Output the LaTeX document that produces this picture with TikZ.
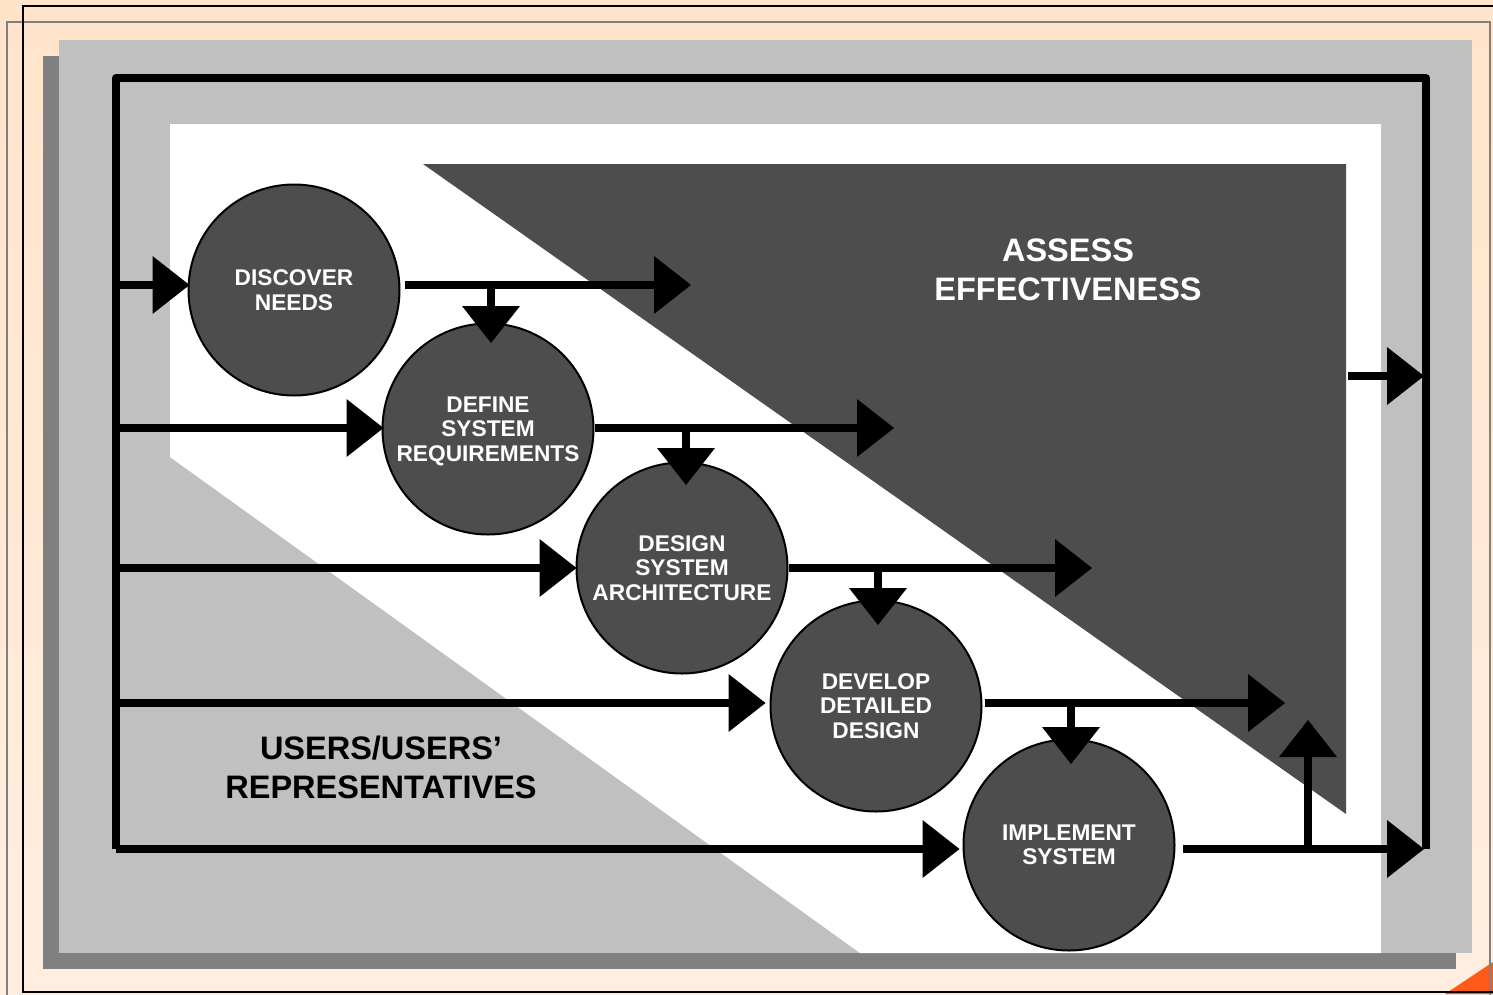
\documentclass[tikz,border=0pt]{standalone}
\usepackage{fontspec}
\setmainfont{Liberation Sans}
\usetikzlibrary{arrows.meta}
\definecolor{darkfill}{HTML}{4D4D4D}
\definecolor{panelc}{HTML}{C0C0C0}
\definecolor{shadowc}{HTML}{808080}
\definecolor{peachtop}{HTML}{FFE4CA}
\definecolor{peachbot}{HTML}{FFEEE0}
\definecolor{orangec}{HTML}{FF5A1A}
\begin{document}
\begin{tikzpicture}[x=1pt,y=-1pt,
  proc/.style={circle, draw=black, line width=2pt, fill=darkfill, minimum size=211pt, inner sep=0pt,
    text=white, font=\bfseries\fontsize{22.7}{24.5}\selectfont, align=center},
  arr/.style={line width=8pt, -{Triangle[length=37pt,width=58pt,line width=0pt]}},
  bar/.style={line width=8pt, line join=round},
  biglabel/.style={font=\bfseries\fontsize{32.5}{39}\selectfont, align=center}]
\useasboundingbox (0,0) rectangle (1493,994);
\begin{scope}
\clip (0,0) rectangle (1493,994);
% background
\shade[top color=peachtop, bottom color=peachbot] (0,0) rectangle (1493,994);
\fill[orangec] (1445,994) -- (1493,962) -- (1493,994) -- cycle;
\draw[shadowc, line width=1.5pt] (7,22) rectangle (1490,1005);
\draw[black, line width=2pt] (23,6) rectangle (1505,992);
% panel
\fill[shadowc] (43,56) rectangle (1456,969);
\fill[panelc] (59,40) rectangle (1472,953);
\fill[white] (170,124) -- (1381,124) -- (1381,953) -- (860,953) -- (170,457) -- cycle;
\fill[darkfill] (423,164) -- (1346,164) -- (1346,814) -- cycle;
\end{scope}
% labels
\node[biglabel, text=white] (assess) at (1068,269.5) {ASSESS\\EFFECTIVENESS};
\node[biglabel] (users) at (381,767.5) {USERS/USERS’\\REPRESENTATIVES};
% process circles
\node[proc] (dn) at (294,290) {DISCOVER\\NEEDS};
\node[proc] (dr) at (488,429) {DEFINE\\SYSTEM\\\raisebox{0pt}[\height][0pt]{REQUIREMENTS}};
\node[proc] (da) at (682,568) {DESIGN\\SYSTEM\\ARCHITECTURE};
\node[proc] (dd) at (876,706) {DEVELOP\\DETAILED\\DESIGN};
\node[proc] (is) at (1069,845) {IMPLEMENT\\SYSTEM};
% frame
\coordinate (TL) at (116,78);
\coordinate (TR) at (1426,78);
\coordinate (BL) at (116,849);
\coordinate (BR) at (1426,849);
\draw[bar] (BL) -- (TL) -- (TR) -- (BR);
% feed arrows from left bar
\coordinate (f1) at (116,285);
\coordinate (f2) at (116,428);
\coordinate (f3) at (116,568);
\coordinate (f4) at (116,703);
\draw[arr] (f1) -- ([xshift=2pt]f1 -| dn.west);
\draw[arr] (f2) -- ([xshift=2pt]f2 -| dr.west);
\draw[arr] (f3) -- ([xshift=1pt]f3 -| da.west);
\draw[arr] (f4) -- ([xshift=-4pt]f4 -| dd.west);
\draw[arr] (BL) -- ([xshift=-3pt]BL -| is.west);
% outgoing arrows
\coordinate (o1) at (691,285);
\coordinate (o2) at (894,428);
\coordinate (o3) at (1092,568);
\coordinate (o4) at (1285,703);
\draw[arr] ([xshift=4pt]dn.east |- o1) -- (o1);
\draw[arr] (dr.east |- o2) -- (o2);
\draw[arr] (da.east |- o3) -- (o3);
\draw[arr] ([xshift=2pt]dd.east |- o4) -- (o4);
\draw[arr] ([xshift=7pt]is.east |- BR) -- ([xshift=-2pt]BR);
% branch arrows down
\coordinate (b1) at (491,285);
\coordinate (b2) at (686,428);
\coordinate (b3) at (878,568);
\coordinate (b4) at (1071,703);
\draw[arr] (b1) -- ++(0,58);
\draw[arr] (b2) -- ++(0,57);
\draw[arr] (b3) -- ++(0,57);
\draw[arr] (b4) -- ++(0,61);
% up arrow and assess arrow
\coordinate (u1) at (1308,845);
\coordinate (u2) at (1308,720);
\draw[arr] (u1) -- (u2);
\coordinate (a1) at (1348,376);
\coordinate (a2) at (1424,376);
\draw[arr] (a1) -- (a2);
\end{tikzpicture}
\end{document}
